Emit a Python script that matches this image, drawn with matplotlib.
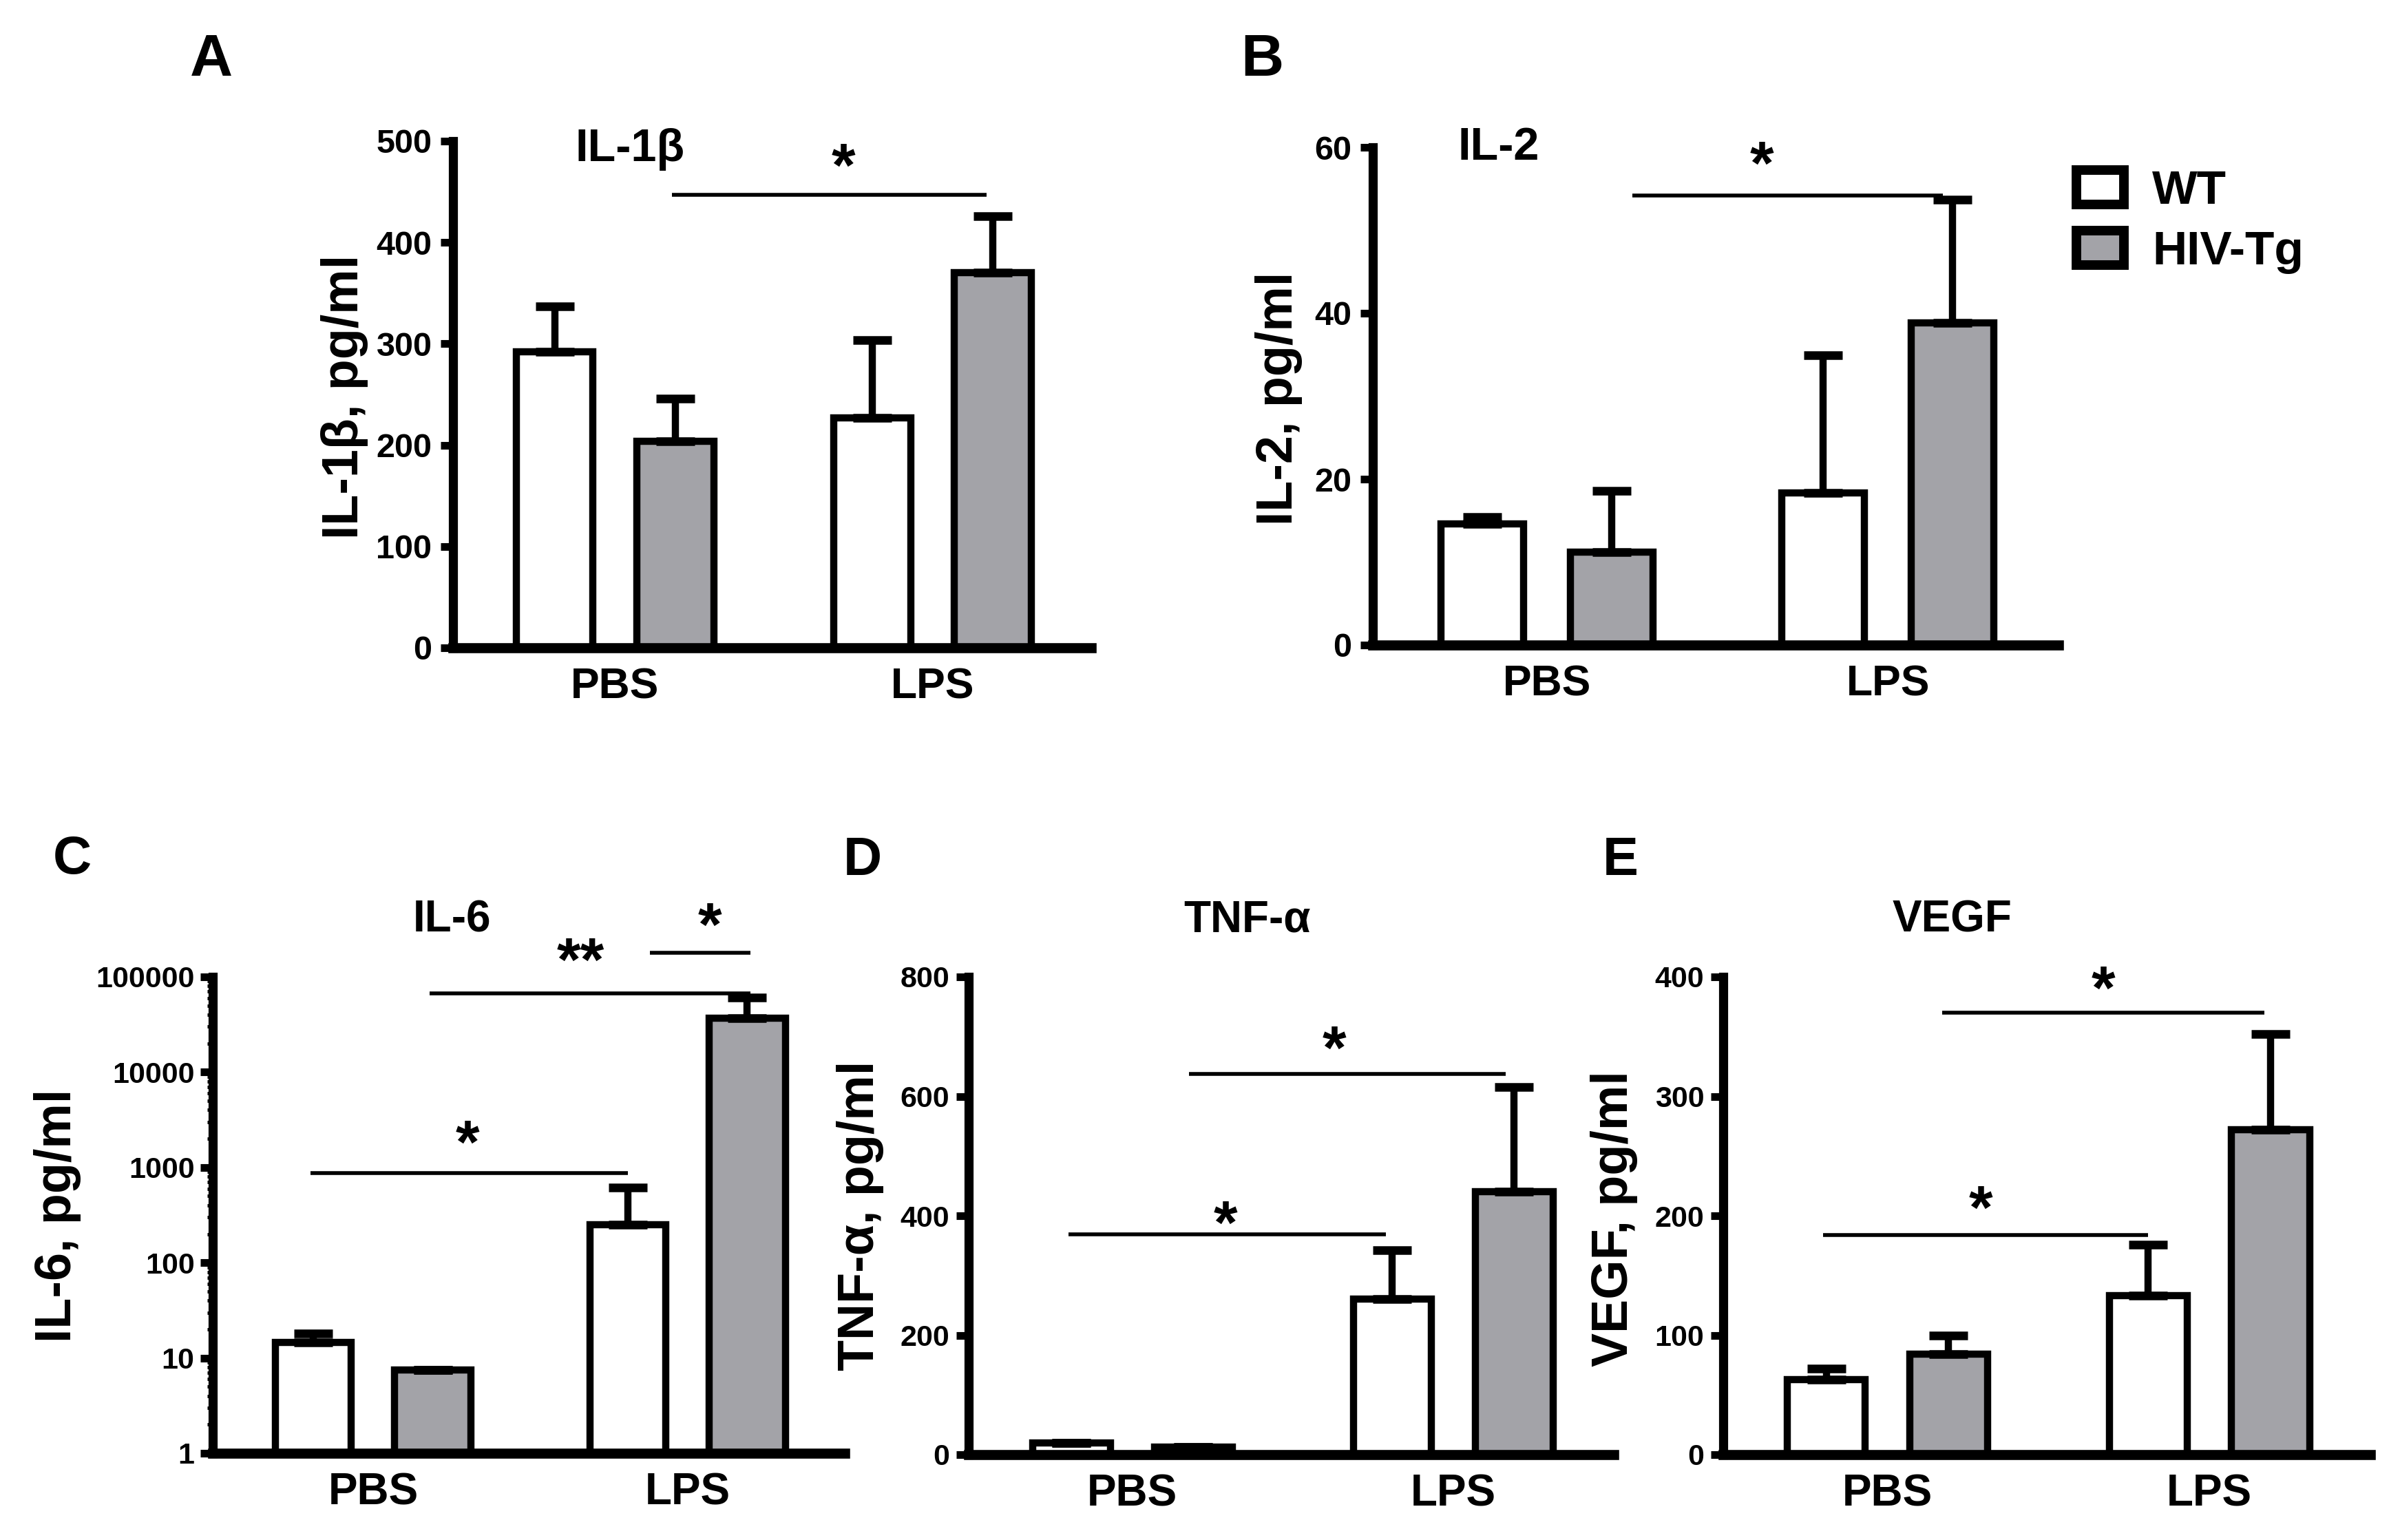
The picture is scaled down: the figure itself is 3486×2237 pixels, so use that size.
import matplotlib
matplotlib.use('Agg')
import matplotlib.pyplot as plt
from matplotlib import font_manager as fm
from matplotlib.patches import Patch
from matplotlib.ticker import FixedLocator, FuncFormatter, LogLocator, NullFormatter
import numpy as np

names = {f.name for f in fm.fontManager.ttflist}
ARIAL = 'Liberation Sans' if 'Liberation Sans' in names else 'DejaVu Sans'
NARROW = 'Liberation Sans Narrow' if 'Liberation Sans Narrow' in names else ARIAL
plt.rcParams['font.family'] = [ARIAL, 'DejaVu Sans']
plt.rcParams['font.weight'] = 'bold'

# ---------------- data ----------------
groups = ['PBS', 'LPS']
series = ['WT', 'HIV-Tg']

il1b_wt = [292, 227]
il1b_wt_err = [45, 77]
il1b_tg = [204, 370]
il1b_tg_err = [42, 56]

il2_wt = [14.6, 18.3]
il2_wt_err = [0.8, 16.6]
il2_tg = [11.2, 38.8]
il2_tg_err = [7.4, 14.9]

il6_wt = [14.5, 250]
il6_wt_err = [3.5, 370]
il6_tg = [7.5, 37000]
il6_tg_err = [0, 24000]

tnf_wt = [20, 260]
tnf_wt_err = [0, 82]
tnf_tg = [13, 440]
tnf_tg_err = [0, 175]

vegf_wt = [63, 133]
vegf_wt_err = [9, 43]
vegf_tg = [84, 272]
vegf_tg_err = [16, 80]

# significance brackets: (x_start, x_end, y) and stars: (x, y, text)
il1b_lines = [(0.18, 1.17, 447)]
il1b_stars = [(0.72, 489, '*')]
il2_lines = [(0.25, 1.16, 54.2)]
il2_stars = [(0.63, 59.7, '*')]
il6_lines = [(-0.20, 0.81, 870), (0.18, 1.20, 67000), (0.88, 1.20, 179000)]
il6_stars = [(0.30, 2530, '*'), (0.66, 209000, '**'), (1.07, 490000, '*')]
tnf_lines = [(-0.20, 0.79, 369), (0.176, 1.163, 637)]
tnf_stars = [(0.29, 411, '*'), (0.63, 703, '*')]
vegf_lines = [(-0.20, 0.81, 184), (0.17, 1.17, 370)]
vegf_stars = [(0.29, 218, '*'), (0.67, 402, '*')]

GRAY = '#a3a3a8'
W, H = 3487, 2237

fig = plt.figure(figsize=(W / 100, H / 100), dpi=100)
fig.patch.set_facecolor('white')


def add_axes(l, r, top, bottom):
    return fig.add_axes([l / W, 1 - bottom / H, (r - l) / W, (bottom - top) / H])


def draw(ax, wt, wt_err, tg, tg_err, ylim, yticks, ylabel, title, title_xy, title_fs,
         label_xy, lines, stars, ytick_font, ytick_fs, xtick_fs, log=False, ytick_pad=8):
    x = np.arange(len(groups))
    off, w = 0.19, 0.242
    bottom = 1 if log else 0
    if log:
        ax.set_yscale('log')
    for vals, errs, pos, fc in ((wt, wt_err, x - off, 'white'), (tg, tg_err, x + off, GRAY)):
        vals = np.asarray(vals, float)
        errs = np.asarray(errs, float)
        ax.bar(pos, vals - bottom, w, bottom=bottom, color=fc, edgecolor='black',
               linewidth=7.5, zorder=2)
        ax.errorbar(pos, vals, yerr=[np.zeros_like(vals), errs], fmt='none', ecolor='black',
                    elinewidth=7.5, capsize=20, capthick=9, zorder=3)
    ax.set_xlim(-0.51, 1.5)
    ax.set_ylim(*ylim)
    for s in ('top', 'right'):
        ax.spines[s].set_visible(False)
    ax.spines['left'].set_linewidth(9.5)
    ax.spines['bottom'].set_linewidth(10.5)
    ax.set_xticks(x)
    ax.set_xticklabels(groups, fontsize=xtick_fs, fontweight='bold', family=[NARROW, 'DejaVu Sans'])
    ax.tick_params(axis='x', length=0, pad=20)
    ax.yaxis.set_major_locator(FixedLocator(yticks))
    ax.yaxis.set_major_formatter(FuncFormatter(lambda v, p: '%d' % round(v)))
    if log:
        ax.yaxis.set_minor_locator(LogLocator(base=10, subs=np.arange(2, 10)))
        ax.yaxis.set_minor_formatter(NullFormatter())
        ax.tick_params(axis='y', which='minor', length=6, width=3.5, direction='out')
    ax.tick_params(axis='y', which='major', length=13, width=8, direction='out', pad=ytick_pad)
    for lab in ax.get_yticklabels():
        lab.set_fontsize(ytick_fs)
        lab.set_fontweight('bold')
        lab.set_family([ytick_font, 'DejaVu Sans'])
    ax.set_ylabel(ylabel, fontsize=53, fontweight='bold')
    ax.yaxis.label.set_verticalalignment('center')
    ax.yaxis.set_label_coords(*label_xy)
    ax.set_title(title, x=title_xy[0], y=title_xy[1], pad=0, va='baseline',
                 fontsize=title_fs, fontweight='bold')
    for x0, x1, y in lines:
        ax.plot([x0, x1], [y, y], color='black', lw=4, solid_capstyle='butt',
                clip_on=False, zorder=4)
    for sx, sy, st in stars:
        fs = 64
        ax.annotate(st, xy=(sx, sy), xytext=(0, -0.55 * fs), textcoords='offset points',
                    ha='center', va='baseline', fontsize=fs, fontweight='bold',
                    annotation_clip=False)


axA = add_axes(658, 1585, 205, 941)
draw(axA, il1b_wt, il1b_wt_err, il1b_tg, il1b_tg_err, (0, 500), [0, 100, 200, 300, 400, 500],
     'IL-1β, pg/ml', 'IL-1β', (0.277, 0.961), 48, (-0.170, 0.495), il1b_lines, il1b_stars,
     NARROW, 35, 45, ytick_pad=9)

axB = add_axes(1994, 2990, 214, 937)
draw(axB, il2_wt, il2_wt_err, il2_tg, il2_tg_err, (0, 60), [0, 20, 40, 60],
     'IL-2, pg/ml', 'IL-2', (0.183, 0.975), 48, (-0.137, 0.495), il2_lines, il2_stars,
     NARROW, 35, 45, ytick_pad=9)

axC = add_axes(309, 1227, 1419, 2111)
draw(axC, il6_wt, il6_wt_err, il6_tg, il6_tg_err, (1, 100000), [1, 10, 100, 1000, 10000, 100000],
     'IL-6, pg/ml', 'IL-6', (0.378, 1.095), 46, (-0.246, 0.499), il6_lines, il6_stars,
     ARIAL, 31, 46, log=True, ytick_pad=6)

axD = add_axes(1407, 2344, 1419, 2113)
draw(axD, tnf_wt, tnf_wt_err, tnf_tg, tnf_tg_err, (0, 800), [0, 200, 400, 600, 800],
     'TNF-α, pg/ml', 'TNF-α', (0.432, 1.094), 46, (-0.168, 0.50), tnf_lines, tnf_stars,
     ARIAL, 31, 46, ytick_pad=7)

axE = add_axes(2503, 3443, 1419, 2113)
draw(axE, vegf_wt, vegf_wt_err, vegf_tg, vegf_tg_err, (0, 400), [0, 100, 200, 300, 400],
     'VEGF, pg/ml', 'VEGF', (0.354, 1.094), 46, (-0.169, 0.494), vegf_lines, vegf_stars,
     ARIAL, 31, 46, ytick_pad=7)

# panel letters
for letter, px, py, fs in (('A', 307, 110, 62), ('B', 1833, 110, 62), ('C', 105, 1269, 56),
                           ('D', 1253, 1271, 56), ('E', 2354, 1271, 56)):
    fig.text(px / W, 1 - py / H, letter, ha='center', va='baseline', fontsize=fs,
             fontweight='bold')

# legend
handles = [Patch(facecolor='white', edgecolor='black', linewidth=10),
           Patch(facecolor=GRAY, edgecolor='black', linewidth=10)]
fig.legend(handles, series, loc='upper left', bbox_to_anchor=(3016 / W, 1 - 246 / H),
           frameon=False, borderpad=0, borderaxespad=0, handlelength=0.99,
           handleheight=0.73, handletextpad=0.6, labelspacing=0.35,
           prop=dict(family=[NARROW, 'DejaVu Sans'], weight='bold', size=50))

fig.savefig('out.png', dpi=100, facecolor='white')
